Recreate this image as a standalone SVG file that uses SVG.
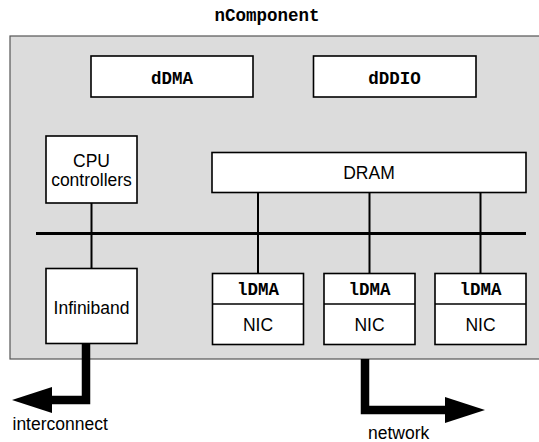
<svg xmlns="http://www.w3.org/2000/svg" width="539" height="442" viewBox="0 0 539 442">
<style>
.box{fill:#fff;stroke:#000;stroke-width:1.6}
.mono{font-family:"Liberation Mono","Courier New",monospace;font-weight:bold;font-size:17.5px;text-anchor:middle;fill:#000}
.sans{font-family:"Liberation Sans",Arial,sans-serif;font-size:17.5px;text-anchor:middle;fill:#000}
.thin{stroke:#000;stroke-width:2;fill:none}
.thick{stroke:#000;stroke-width:8.5;fill:none;stroke-linejoin:miter}
</style>
<rect width="539" height="442" fill="#fff"/>
<g id="nComponent">
<rect x="10" y="36" width="540" height="323" fill="#dcdcdc" stroke="#555" stroke-width="1.2"/>
<text class="mono" x="267" y="21">nComponent</text>
</g>
<g id="connectors">
<line class="thin" x1="36" y1="233.5" x2="526" y2="233.5" style="stroke-width:3"/>
<line class="thin" x1="91.5" y1="203" x2="91.5" y2="268.5"/>
<line class="thin" x1="258" y1="192.5" x2="258" y2="273.5"/>
<line class="thin" x1="369.5" y1="192.5" x2="369.5" y2="273.5"/>
<line class="thin" x1="480.5" y1="192.5" x2="480.5" y2="273.5"/>
<path class="thick" d="M86 344 V400 H52"/>
<polygon points="52,387 12,400 52,413" fill="#000"/>
<path class="thick" d="M365 359 V410 H446"/>
<polygon points="445,397 485,410 445,423" fill="#000"/>
</g>
<g id="dDMA"><rect class="box" x="91" y="56" width="162" height="41"/><text class="mono" x="172" y="83.5">dDMA</text></g>
<g id="dDDIO"><rect class="box" x="313.5" y="56" width="162.5" height="41"/><text class="mono" x="394.5" y="83.5">dDDIO</text></g>
<g id="cpu"><rect class="box" x="46" y="136" width="91" height="67"/><text class="sans" x="91.5" y="166.5">CPU</text><text class="sans" x="91.5" y="186">controllers</text></g>
<g id="dram"><rect class="box" x="212" y="152.5" width="314" height="40"/><text class="sans" x="369" y="179">DRAM</text></g>
<g id="infiniband"><rect class="box" x="46" y="268.5" width="91" height="75"/><text class="sans" x="91.5" y="313.5">Infiniband</text></g>
<g id="nic1"><rect class="box" x="212.5" y="273.5" width="91" height="71"/><line class="thin" x1="212.5" y1="304" x2="303.5" y2="304" style="stroke-width:1.6"/><text class="mono" x="258" y="295">lDMA</text><text class="sans" x="258" y="331">NIC</text></g>
<g id="nic2"><rect class="box" x="324" y="273.5" width="91" height="71"/><line class="thin" x1="324" y1="304" x2="415" y2="304" style="stroke-width:1.6"/><text class="mono" x="369.5" y="295">lDMA</text><text class="sans" x="369.5" y="331">NIC</text></g>
<g id="nic3"><rect class="box" x="435" y="273.5" width="91" height="71"/><line class="thin" x1="435" y1="304" x2="526" y2="304" style="stroke-width:1.6"/><text class="mono" x="480.5" y="295">lDMA</text><text class="sans" x="480.5" y="331">NIC</text></g>
<g id="labels">
<text class="sans" x="12.5" y="430" style="text-anchor:start">interconnect</text>
<text class="sans" x="368" y="439" style="text-anchor:start">network</text>
</g>
</svg>
